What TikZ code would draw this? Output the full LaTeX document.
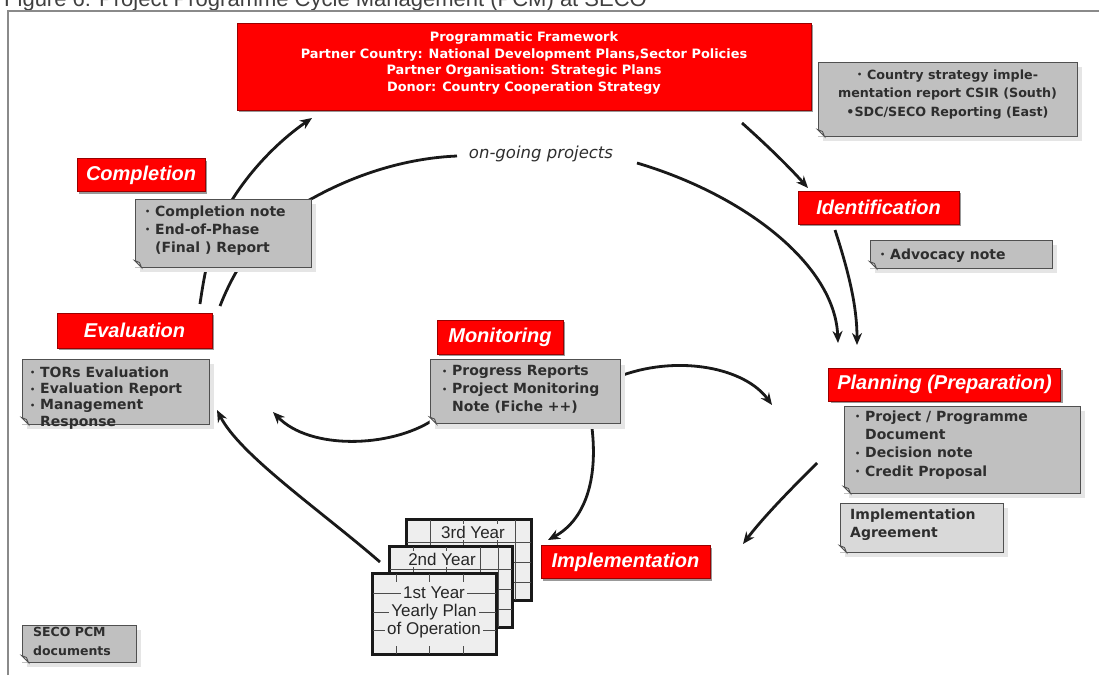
\documentclass[tikz,border=0pt]{standalone}
\usepackage{fontspec}
\setmainfont{Liberation Sans}
\newfontfamily\lsans{Liberation Sans}
\newfontfamily\dvs{DejaVu Sans}
\usetikzlibrary{arrows.meta,shadows}
\definecolor{pcmred}{HTML}{FF0000}
\definecolor{pcmdark}{HTML}{9A0000}
\definecolor{pcmgray}{HTML}{C0C0C0}
\definecolor{pcmlight}{HTML}{D9D9D9}
\definecolor{pcmline}{HTML}{505050}
\definecolor{pcmtext}{HTML}{2E2E2E}
\definecolor{sheetfill}{HTML}{EEEEEE}
\definecolor{framegray}{HTML}{8A8A8A}
\newcommand\redfont{\lsans\bfseries\itshape\fontsize{20}{22}\selectfont}
\newcommand\gfont{\dvs\bfseries\fontsize{14}{18}\selectfont}
\newcommand\topfont{\dvs\bfseries\fontsize{12.9}{16.7}\selectfont}
\newcommand\yfont{\lsans\fontsize{17}{18}\selectfont}
\newcommand\bul{\makebox[10pt][l]{\raisebox{1.5pt}{\fontsize{8}{8}\selectfont\textbullet}}}
\newcommand\ind{\hspace*{10pt}}
\pgfdeclarelayer{bg}
\pgfsetlayers{bg,main}
\newcommand\foldcorner[1]{%
  \fill[white] (#1.south west) -- ([yshift=7pt]#1.south west) -- ([xshift=7pt]#1.south west) -- cycle;
  \draw[pcmline, line width=0.9pt, fill=pcmlight] ([yshift=7pt]#1.south west) -- ([xshift=7pt]#1.south west) -- ([xshift=5pt,yshift=5pt]#1.south west) -- cycle;}
\begin{document}
\begin{tikzpicture}[x=1pt,y=-1pt,
  conn/.style={line width=2.8pt, black!90, -{Stealth[length=12pt,width=10pt]}},
  plainconn/.style={line width=2.8pt, black!90},
  redbox/.style={fill=pcmred, draw=pcmdark, line width=0.6pt, text=white, inner sep=0pt, font=\redfont,
     drop shadow={shadow xshift=2pt,shadow yshift=-2pt,fill=black!40,opacity=1}},
  graybox/.style={fill=pcmgray, draw=pcmline, line width=1pt, inner sep=0pt,
     drop shadow={shadow xshift=5pt,shadow yshift=-5pt,fill=black!10,opacity=1}},
  gtext/.style={inner sep=0pt, text=pcmtext, font=\gfont, align=left, anchor=north west},
  sheet/.style={fill=sheetfill, draw=black!90, line width=2.4pt, inner sep=0pt, minimum width=123pt, minimum height=80pt},
  sheettext/.style={fill=sheetfill, inner sep=2pt, text=black!85, font=\yfont},
  gridl/.style={line width=0.7pt, black!70}
]
\useasboundingbox (0,0) rectangle (1099,675);
\clip (0,0) rectangle (1099,675);
\begin{pgfonlayer}{bg}
\fill[white] (0,0) rectangle (1099,675);
\end{pgfonlayer}

% caption and frame
\node[anchor=base west, inner sep=0pt, text=black!75, font=\lsans\fontsize{22}{24}\selectfont] (caption) at (4,6)
  {Figure 6: Project Programme Cycle Management (PCM) at SECO};
\draw[framegray, line width=1.6pt] (8,675) -- (8,11) -- (1099,11);

% programmatic framework
\node[redbox, minimum width=574pt, minimum height=87pt] (frame) at (524,66.5) {};
\node[inner sep=0pt, text=white, font=\topfont, align=center] (framet) at (524,63)
  {Programmatic Framework\\Partner Country: National Development Plans,Sector Policies\\Partner Organisation: Strategic Plans\\Donor: Country Cooperation Strategy};

% CSIR note
\node[graybox, minimum width=259pt, minimum height=74pt] (csir) at (947.5,99) {};
\node[gtext, anchor=north, align=center, font=\dvs\bfseries\fontsize{12.7}{18.5}\selectfont] (csirt) at (947.5,69.5)
  {\bul Country strategy imple-\\mentation report CSIR (South)\\\textbullet SDC/SECO Reporting (East)};

% ongoing label
\node[inner sep=0pt, text=pcmtext, font=\dvs\itshape\fontsize{16.5}{18}\selectfont] (ongoing) at (541,154) {on-going projects};

% phase labels
\node[redbox, minimum width=128pt, minimum height=33pt] (completion) at (141,175) {Completion};
\node[redbox, minimum width=161pt, minimum height=33pt] (identification) at (878.5,207.5) {Identification};
\node[redbox, minimum width=155pt, minimum height=35pt] (evaluation) at (134.5,330.5) {Evaluation};
\node[redbox, minimum width=126pt, minimum height=34pt] (monitoring) at (500,337) {Monitoring};
\node[redbox, minimum width=232pt, minimum height=33pt] (planning) at (944.5,384.5) {Planning (Preparation)};
\node[redbox, minimum width=169pt, minimum height=33pt] (implementation) at (625.5,562) {Implementation};

% gray notes
\node[graybox, minimum width=176pt, minimum height=68pt] (compg) at (223,233) {};
\node[gtext] (compt) at (145,205.5) {\bul Completion note\\\bul End-of-Phase\\\ind(Final ) Report};

\node[graybox, minimum width=182pt, minimum height=28pt] (advg) at (961,254) {};
\node[gtext] (advt) at (880,248.5) {\bul Advocacy note};

\node[graybox, minimum width=187pt, minimum height=65pt] (evalg) at (115.5,391.5) {};
\node[gtext, font=\dvs\bfseries\fontsize{14}{16.3}\selectfont] (evalt) at (30,366.5)
  {\bul TORs Evaluation\\\bul Evaluation Report\\\bul Management\\\ind Response};

\node[graybox, minimum width=190pt, minimum height=64pt] (monig) at (525,391.5) {};
\node[gtext] (monit) at (442,365.5) {\bul Progress Reports\\\bul Project Monitoring\\\ind Note (Fiche ++)};

\node[graybox, minimum width=236pt, minimum height=87pt] (plang) at (962,449.5) {};
\node[gtext, font=\dvs\bfseries\fontsize{14}{18.3}\selectfont] (plant) at (855,410.5)
  {\bul Project / Programme\\\ind Document\\\bul Decision note\\\bul Credit Proposal};

\node[graybox, fill=pcmlight, minimum width=163pt, minimum height=49pt] (agreeg) at (921.5,527.5) {};
\node[gtext] (agreet) at (850,508.5) {Implementation\\Agreement};

\node[graybox, minimum width=114pt, minimum height=37pt] (secog) at (79,643.5) {};
\node[gtext, font=\dvs\bfseries\fontsize{12.5}{19}\selectfont] (secot) at (33,627.5) {SECO PCM\\documents};

\foreach \n in {csir,compg,advg,evalg,monig,plang,agreeg,secog} {\foldcorner{\n}}

% yearly plan sheets
\node[sheet, minimum width=124pt] (sheet3) at (469,560) {};
\foreach \c in {23,56,90,108} \draw[gridl] (407+\c,520) -- (407+\c,600);
\foreach \r in {22,42,62} \draw[gridl] (407,520+\r) -- (531,520+\r);
\draw[black!90, line width=2.4pt] (sheet3.north west) rectangle (sheet3.south east);
\node[sheettext] (year3) at (473,532) {3rd Year};

\node[sheet, minimum width=122pt] (sheet2) at (451,587) {};
\foreach \c in {23,56,90,108} \draw[gridl] (390+\c,547) -- (390+\c,627);
\foreach \r in {22,42,62} \draw[gridl] (390,547+\r) -- (512,547+\r);
\draw[black!90, line width=2.4pt] (sheet2.north west) rectangle (sheet2.south east);
\node[sheettext] (year2) at (442,559) {2nd Year};

\node[sheet] (sheet1) at (434.5,614) {};
\foreach \c in {23,56,90} {\draw[gridl] (373+\c,574) -- (373+\c,582); \draw[gridl] (373+\c,654) -- (373+\c,646);}
\foreach \r in {19,38,56} \draw[gridl] (373,574+\r) -- (496,574+\r);
\draw[black!90, line width=2.4pt] (sheet1.north west) rectangle (sheet1.south east);
\node[sheettext] (year1a) at (434,593) {1st Year};
\node[sheettext] (year1b) at (434,612) {Yearly Plan};
\node[sheettext] (year1c) at (434,630) {of Operation};

% connector end points
\coordinate (evtopL) at (200,304);
\coordinate (evtopR) at (220,306);
\coordinate (bendA) at (232,200);
\coordinate (bendB) at (313,198);
\coordinate (frameSW) at (312,118);
\coordinate (ongoL) at (457,156);
\coordinate (ongoR) at (637,163);
\coordinate (planTopL) at (838,343);
\coordinate (frameSE) at (742,123);
\coordinate (identTop) at (808,188);
\coordinate (identBot) at (835,230);
\coordinate (planTopR) at (857,345);
\coordinate (moniR) at (623,375);
\coordinate (planL) at (772,405);
\coordinate (planSW) at (817,463);
\coordinate (implNE) at (743,544);
\coordinate (moniB) at (592,428);
\coordinate (implNW) at (548,540);
\coordinate (moniSW) at (433,420);
\coordinate (evalE) at (273,412);
\coordinate (sheetW) at (380,562);
\coordinate (evalSE) at (217,410);

\begin{pgfonlayer}{bg}
\draw[conn] (evtopL) .. controls (206,262) and (214,228) .. (bendA) .. controls (252,168) and (280,140) .. (frameSW);
\draw[plainconn] (evtopR) .. controls (240,255) and (270,220) .. (bendB) .. controls (360,172) and (410,158) .. (ongoL);
\draw[conn] (ongoR) .. controls (745,195) and (835,265) .. (planTopL);
\draw[conn] (frameSE) .. controls (770,148) and (790,168) .. (identTop);
\draw[conn] (identBot) .. controls (848,270) and (857,305) .. (planTopR);
\draw[conn] (moniR) .. controls (680,355) and (745,368) .. (planL);
\draw[conn] (planSW) .. controls (795,485) and (765,515) .. (implNE);
\draw[conn] (moniB) .. controls (598,480) and (585,520) .. (implNW);
\draw[conn] (moniSW) .. controls (390,448) and (310,450) .. (evalE);
\draw[conn] (sheetW) .. controls (320,510) and (240,455) .. (evalSE);
\end{pgfonlayer}
\end{tikzpicture}
\end{document}
